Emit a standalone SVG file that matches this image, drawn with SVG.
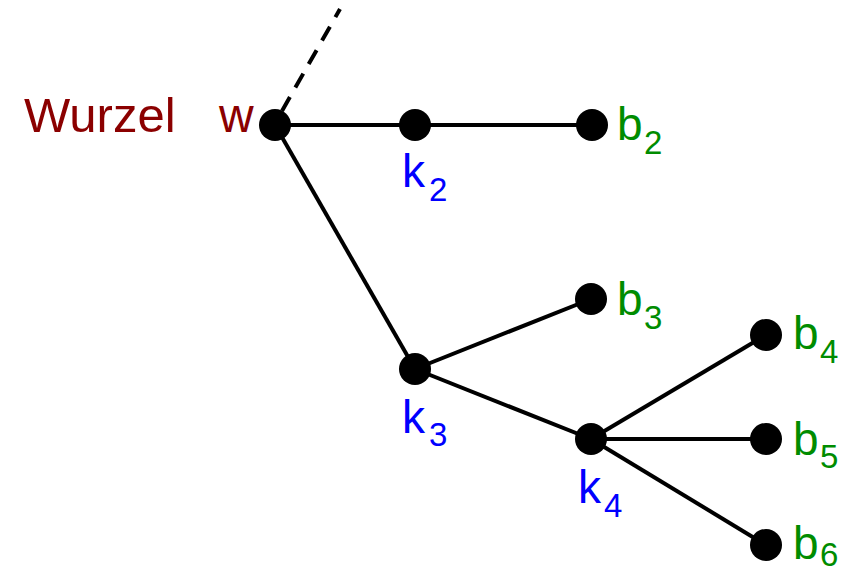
<svg xmlns="http://www.w3.org/2000/svg" width="845" height="574" viewBox="0 0 845 574">
<style>
.e{stroke:#000;stroke-width:4;fill:none}
.d{stroke:#000;stroke-width:4;stroke-dasharray:16,11;fill:none}
.n{fill:#000}
text{font-family:"Liberation Sans",Arial,sans-serif;font-size:46px}
.s{font-size:33px}
.r{fill:#8B0000}
.k{fill:#0000FF}
.b{fill:#008C00}
</style>
<rect width="845" height="574" fill="#fff"/>
<g id="connectors">
<line class="d" x1="282" y1="111" x2="340" y2="9"/>
<line class="e" x1="275" y1="125" x2="592" y2="125"/>
<line class="e" x1="275" y1="125" x2="415" y2="369"/>
<line class="e" x1="415" y1="369" x2="591" y2="299"/>
<line class="e" x1="415" y1="369" x2="591" y2="439"/>
<line class="e" x1="591" y1="439" x2="766" y2="335"/>
<line class="e" x1="591" y1="439" x2="766" y2="439"/>
<line class="e" x1="591" y1="439" x2="766" y2="545"/>
</g>
<g id="root-label"><text class="r" x="24" y="132" style="font-size:49px">Wurzel</text></g>
<g id="w"><circle class="n" cx="275" cy="125" r="16"/><text class="r" x="219" y="132" style="font-size:48px">w</text></g>
<g id="k2"><circle class="n" cx="415" cy="125" r="16"/><text class="k" x="402" y="187">k<tspan class="s" x="429" y="201">2</tspan></text></g>
<g id="b2"><circle class="n" cx="592" cy="125" r="16"/><text class="b" x="617" y="140">b<tspan class="s" x="644" y="154">2</tspan></text></g>
<g id="k3"><circle class="n" cx="415" cy="369" r="16"/><text class="k" x="402" y="433">k<tspan class="s" x="429" y="446">3</tspan></text></g>
<g id="b3"><circle class="n" cx="591" cy="299" r="16"/><text class="b" x="617" y="315">b<tspan class="s" x="644" y="329">3</tspan></text></g>
<g id="k4"><circle class="n" cx="591" cy="439" r="16"/><text class="k" x="578" y="503">k<tspan class="s" x="604" y="517">4</tspan></text></g>
<g id="b4"><circle class="n" cx="766" cy="335" r="16"/><text class="b" x="793" y="349">b<tspan class="s" x="820" y="363">4</tspan></text></g>
<g id="b5"><circle class="n" cx="766" cy="439" r="16"/><text class="b" x="793" y="455">b<tspan class="s" x="820" y="468">5</tspan></text></g>
<g id="b6"><circle class="n" cx="766" cy="545" r="16"/><text class="b" x="793" y="559">b<tspan class="s" x="820" y="566">6</tspan></text></g>
</svg>
